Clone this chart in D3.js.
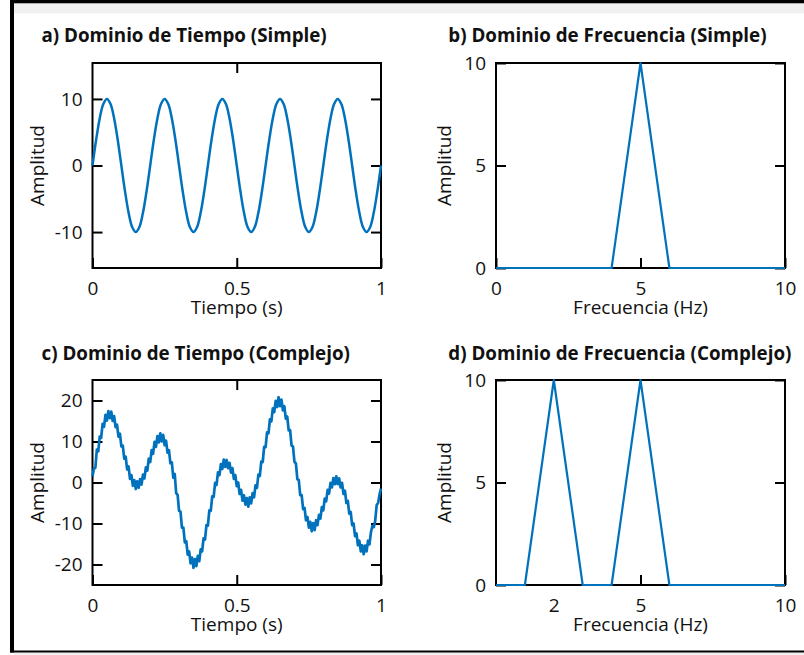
<!DOCTYPE html>
<html>
    <head>
        <title>Dominio de Tiempo y Frecuencia</title>
        <script src="https://d3js.org/d3.v7.min.js"></script>
        <style>
            body { margin: 0; background: white; }
            text { font-family: 'Open Sans', sans-serif; fill: #111; }
            .title-text { font-size: 18.8px; font-weight: bold; }
            .label-text { font-size: 19px; }
        </style>
    </head>
    <body>
        <svg id='canvas' width=804 height=655></svg>
        <script>
            // colors
            const blue = '#0072BD'
            const band = '#f0f0f0'

            // tick values
            const timeTicks = [0, 0.5, 1]
            const ampTicksSimple = [-10, 0, 10]
            const ampTicksComplex = [-20, -10, 0, 10, 20]
            const freqTicksSimple = [0, 5, 10]
            const freqTicksComplex = [2, 5, 10]
            const specTicks = [0, 5, 10]

            // a) sine sampled every 0.0125 s
            const simpleWave = [
                0, 3.83, 7.07, 9.24, 10, 9.24, 7.07, 3.83, 0, -3.83, -7.07, -9.24, -10, -9.24, -7.07, -3.83,
                0, 3.83, 7.07, 9.24, 10, 9.24, 7.07, 3.83, 0, -3.83, -7.07, -9.24, -10, -9.24, -7.07, -3.83,
                0, 3.83, 7.07, 9.24, 10, 9.24, 7.07, 3.83, 0, -3.83, -7.07, -9.24, -10, -9.24, -7.07, -3.83,
                0, 3.83, 7.07, 9.24, 10, 9.24, 7.07, 3.83, 0, -3.83, -7.07, -9.24, -10, -9.24, -7.07, -3.83,
                0, 3.83, 7.07, 9.24, 10, 9.24, 7.07, 3.83, 0, -3.83, -7.07, -9.24, -10, -9.24, -7.07, -3.83,
                0
            ]

            // c) noisy sum signal sampled every 0.005 s
            const complexWave = [
                1.5, 3.4, 3.6, 8.0, 7.6, 11.2, 10.9, 14.3, 13.6, 16.5,
                15.1, 17.4, 15.7, 17.3, 15.0, 16.2, 13.5, 14.1, 11.2, 11.9,
                8.8, 9.0, 5.8, 6.3, 3.2, 3.9, 0.9, 1.8, -0.8, 0.6,
                -1.6, 0.3, -1.3, 0.8, -0.5, 1.9, 1.0, 3.7, 2.9, 5.8,
                5.0, 7.9, 7.0, 9.9, 8.7, 11.3, 9.8, 12.0, 10.0, 11.6,
                9.1, 10.2, 7.3, 7.9, 4.7, 4.9, 1.2, 2.1, -2.6, -3.0,
                -6.9, -7.1, -11.0, -11.0, -14.6, -14.3, -17.6, -16.8, -19.7, -18.3,
                -20.8, -18.7, -20.4, -17.9, -19.2, -16.3, -16.8, -13.6, -13.9, -10.4,
                -10.5, -6.8, -6.9, -3.4, -3.5, -0.1, -0.6, 2.5, 1.8, 4.5,
                3.3, 5.6, 3.8, 5.5, 3.5, 4.8, 2.4, 3.5, 0.9, 1.8,
                -0.9, 0.0, -2.8, -1.8, -4.4, -3.1, -5.4, -3.8, -5.9, -3.6,
                -5.1, -2.6, -3.6, -0.7, -1.3, 1.9, 1.6, 5.1, 5.0, 8.7,
                8.6, 12.2, 12.0, 15.4, 14.9, 18.1, 17.2, 19.9, 18.4, 20.8,
                18.6, 20.2, 17.6, 18.6, 15.6, 16.1, 12.7, 12.8, 9.0, 8.8,
                5.0, 4.7, 0.8, 0.6, -3.1, -3.1, -6.5, -6.2, -9.2, -8.4,
                -11.0, -9.6, -11.9, -9.9, -11.6, -9.2, -10.4, -7.9, -8.8, -6.0,
                -6.8, -3.9, -4.6, -1.8, -2.7, -0.1, -1.2, 1.1, -0.4, 1.5,
                -0.4, 1.0, -1.2, -0.1, -2.8, -2.0, -5.0, -4.5, -7.6, -7.2,
                -10.4, -10.0, -13.1, -12.4, -15.3, -14.2, -16.8, -15.3, -17.5, -15.4,
                -16.8, -14.2, -15.1, -12.2, -10.6, -10.9, -9.3, -5.5, -5.0, -2.9,
                -1.5
            ]

            // b) and d) spectra, one value per Hz
            const freqBins = [0, 1, 2, 3, 4, 5, 6, 7, 8, 9, 10]
            const simpleSpectrum = [0, 0, 0, 0, 0, 10, 0, 0, 0, 0, 0]
            const complexSpectrum = [0, 0, 10, 0, 0, 10, 0, 0, 0, 0, 0]

            const svg = d3.select('#canvas')

            // window frame around the figure
            svg.append('rect').attr('x', 0).attr('y', 0).attr('width', 804).attr('height', 655).attr('fill', 'white')
            svg.append('rect').attr('x', 14).attr('y', 3.3).attr('width', 790).attr('height', 10).attr('fill', band)
            svg.append('rect').attr('x', 14).attr('y', 652.5).attr('width', 790).attr('height', 3).attr('fill', band)
            svg.append('rect').attr('x', 10).attr('y', 0).attr('width', 794).attr('height', 3.3).attr('fill', 'black')
            svg.append('rect').attr('x', 10).attr('y', 0).attr('width', 4).attr('height', 652.5).attr('fill', 'black')
            svg.append('rect').attr('x', 10).attr('y', 650.5).attr('width', 794).attr('height', 2).attr('fill', 'black')

            const fmt = d => String(d)

            const styleAxis = sel => {
                sel.select('.domain').remove()
                sel.selectAll('.tick line').attr('stroke', 'black').attr('stroke-width', 2)
                sel.selectAll('text').attr('class', 'label-text').attr('font-size', null).attr('font-family', null)
                sel.attr('font-size', null).attr('font-family', null)
            }

            const drawPanel = p => {
                const x = d3.scaleLinear().domain(p.xDomain).range([p.left, p.right])
                const y = d3.scaleLinear().domain(p.yDomain).range([p.bottom, p.top])
                const g = svg.append('g')

                g.append('rect')
                    .attr('x', p.left).attr('y', p.top)
                    .attr('width', p.right - p.left).attr('height', p.bottom - p.top)
                    .attr('fill', 'none').attr('stroke', 'black').attr('stroke-width', 2)

                // inward ticks, labels only left and bottom
                g.append('g').attr('transform', `translate(${p.left},0)`)
                    .call(d3.axisLeft(y).tickValues(p.yTicks).tickSize(-10).tickSizeOuter(0).tickPadding(10).tickFormat(fmt))
                    .call(styleAxis)
                g.append('g').attr('transform', `translate(${p.right},0)`)
                    .call(d3.axisRight(y).tickValues(p.yTicks).tickSize(-10).tickSizeOuter(0).tickFormat(''))
                    .call(styleAxis)
                const bottomAxis = g.append('g').attr('transform', `translate(0,${p.bottom})`)
                    .call(d3.axisBottom(x).tickValues(p.xTicks).tickSize(-10).tickSizeOuter(0).tickPadding(13.5).tickFormat(fmt))
                    .call(styleAxis)
                if (p.hideTick !== undefined) {
                    bottomAxis.selectAll('.tick').filter(d => d === p.hideTick).select('line').remove()
                }
                if (p.topTicks) {
                    g.append('g').attr('transform', `translate(0,${p.top})`)
                        .call(d3.axisTop(x).tickValues(p.topTicks).tickSize(-10).tickSizeOuter(0).tickFormat(''))
                        .call(styleAxis)
                }

                const line = d3.line()
                    .x(d => x(d[0]))
                    .y(d => y(d[1]))
                    .curve(p.curve || d3.curveLinear)
                g.append('path')
                    .datum(p.points)
                    .attr('d', line)
                    .attr('fill', 'none')
                    .attr('stroke', blue)
                    .attr('stroke-width', p.lineWidth || 2.2)
                    .attr('stroke-linejoin', 'round')

                g.append('text').text(p.title)
                    .attr('x', p.titleX).attr('y', p.titleY)
                    .classed('title-text', true)
                g.append('text').text('Amplitud')
                    .attr('transform', `translate(${p.yLabelX},${(p.top + p.bottom) / 2}) rotate(-90)`)
                    .attr('text-anchor', 'middle')
                    .classed('label-text', true)
                g.append('text').text(p.xLabel)
                    .attr('x', (p.left + p.right) / 2).attr('y', p.bottom + 46)
                    .attr('text-anchor', 'middle')
                    .classed('label-text', true)
            }

            const timePoints = arr => arr.map((v, i) => [i / (arr.length - 1), v])
            const freqPoints = arr => arr.map((v, i) => [freqBins[i], v])

            drawPanel({
                left: 92.5, right: 381, top: 63, bottom: 268,
                xDomain: [0, 1], yDomain: [-15.4, 15.4],
                xTicks: timeTicks, yTicks: ampTicksSimple, topTicks: [0.5],
                points: timePoints(simpleWave), curve: d3.curveCatmullRom, lineWidth: 2.5,
                title: 'a) Dominio de Tiempo (Simple)', titleX: 41.5, titleY: 41.7,
                yLabelX: 43.5, xLabel: 'Tiempo (s)'
            })

            drawPanel({
                left: 496, right: 785, top: 63, bottom: 268,
                xDomain: [0, 10], yDomain: [0, 10],
                xTicks: freqTicksSimple, yTicks: specTicks,
                points: freqPoints(simpleSpectrum),
                title: 'b) Dominio de Frecuencia (Simple)', titleX: 448.3, titleY: 41.7,
                yLabelX: 451, xLabel: 'Frecuencia (Hz)'
            })

            drawPanel({
                left: 92.5, right: 381, top: 380, bottom: 585,
                xDomain: [0, 1], yDomain: [-25, 25],
                xTicks: timeTicks, yTicks: ampTicksComplex, topTicks: [0.5],
                points: timePoints(complexWave), lineWidth: 2.7,
                title: 'c) Dominio de Tiempo (Complejo)', titleX: 41.5, titleY: 360,
                yLabelX: 43.5, xLabel: 'Tiempo (s)'
            })

            drawPanel({
                left: 496, right: 785, top: 380, bottom: 585,
                xDomain: [0, 10], yDomain: [0, 10],
                xTicks: freqTicksComplex, yTicks: specTicks, hideTick: 2,
                points: freqPoints(complexSpectrum),
                title: 'd) Dominio de Frecuencia (Complejo)', titleX: 448.3, titleY: 360,
                yLabelX: 451, xLabel: 'Frecuencia (Hz)'
            })
        </script>
    </body>
</html>
